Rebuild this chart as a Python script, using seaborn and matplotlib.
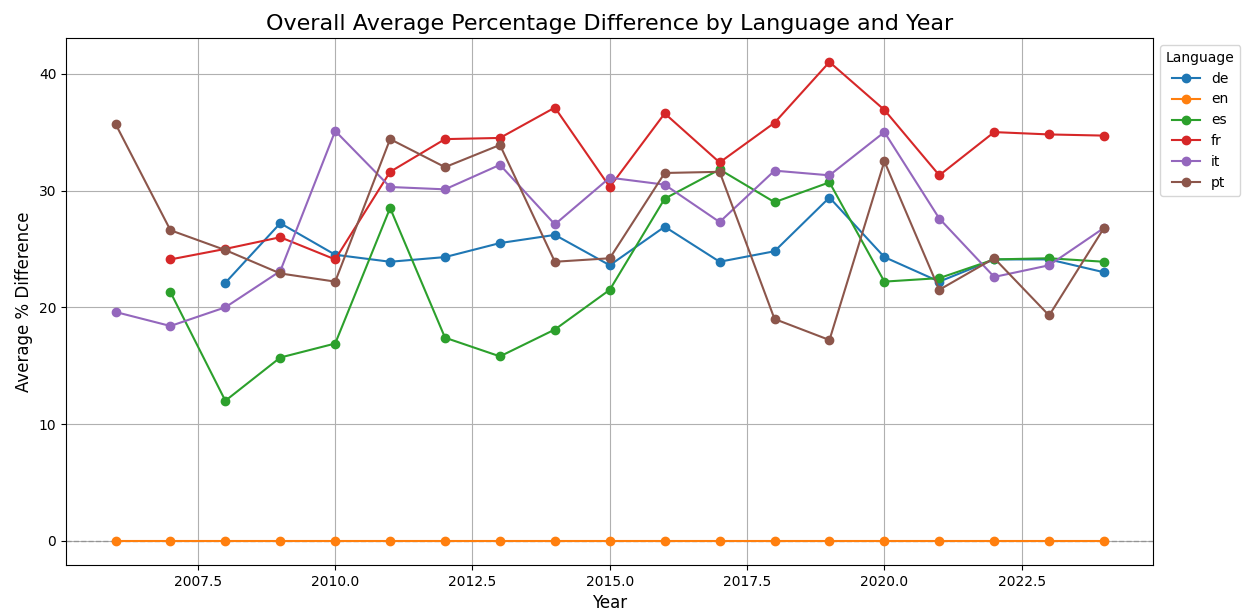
import pandas as pd
import matplotlib
matplotlib.use("Agg")
import matplotlib.pyplot as plt
import seaborn as sns

years = list(range(2006, 2025))

# values (None = no data that year)
de = [None, None, 22.1, 27.2, 24.5, 23.9, 24.3, 25.5, 26.2, 23.6, 26.9, 23.9, 24.8, 29.4, 24.3, 22.2, 24.1, 24.1, 23.0]
en = [0.0] * 19
es = [None, 21.3, 12.0, 15.7, 16.9, 28.5, 17.4, 15.8, 18.1, 21.5, 29.3, 31.8, 29.0, 30.7, 22.2, 22.5, 24.1, 24.2, 23.9]
fr = [None, 24.1, 25.0, 26.0, 24.1, 31.6, 34.4, 34.5, 37.1, 30.3, 36.6, 32.4, 35.8, 41.0, 36.9, 31.3, 35.0, 34.8, 34.7]
it = [19.6, 18.4, 20.0, 23.1, 35.1, 30.3, 30.1, 32.2, 27.1, 31.1, 30.5, 27.3, 31.7, 31.3, 35.0, 27.6, 22.6, 23.6, 26.8]
pt = [35.7, 26.6, 24.9, 22.9, 22.2, 34.4, 32.0, 33.9, 23.9, 24.2, 31.5, 31.6, 19.0, 17.2, 32.5, 21.5, 24.2, 19.3, 26.8]

series = {"de": de, "en": en, "es": es, "fr": fr, "it": it, "pt": pt}
rows = []
for lang, vals in series.items():
    for y, v in zip(years, vals):
        if v is not None:
            rows.append({"Year": y, "Language": lang, "Diff": v})
df = pd.DataFrame(rows)

fig, ax = plt.subplots(figsize=(12.47, 6.14), dpi=100)
fig.subplots_adjust(left=0.053, right=0.925, top=0.938, bottom=0.08)

ax.axhline(0, color="gray", linestyle="--", alpha=0.6, linewidth=1)
sns.lineplot(data=df, x="Year", y="Diff", hue="Language", marker="o",
             markersize=6, markeredgewidth=1, markeredgecolor="auto",
             linewidth=1.5, ax=ax, zorder=3)

ax.set_title("Overall Average Percentage Difference by Language and Year", fontsize=16)
ax.set_xlabel("Year", fontsize=12)
ax.set_ylabel("Average % Difference", fontsize=12)
ax.grid(True)
ax.legend(title="Language", bbox_to_anchor=(1.0, 1.0), loc="upper left")

plt.savefig("out.png")
